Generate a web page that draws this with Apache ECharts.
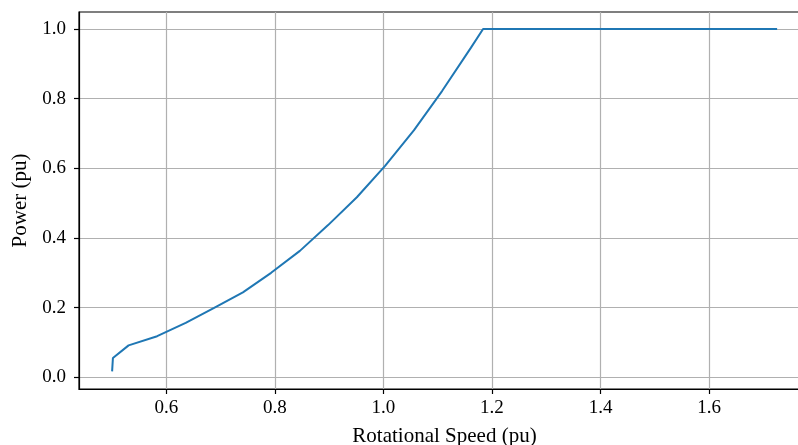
<!DOCTYPE html>
<html>
<head>
<meta charset="utf-8">
<script src="https://cdn.jsdelivr.net/npm/echarts@6/dist/echarts.min.js"></script>
<style>
html,body{margin:0;padding:0;background:#fff;}
#chart{width:798px;height:445px;}
</style>
</head>
<body>
<div id="chart"></div>
<script>
const speed = [0.5, 0.5015, 0.5304, 0.583, 0.6356, 0.688, 0.741, 0.793, 0.846, 0.898, 0.951, 1.003, 1.056, 1.108, 1.161, 1.1836, 1.7254];
const power = [0.017, 0.0555, 0.0916, 0.118, 0.156, 0.199, 0.244, 0.300, 0.363, 0.437, 0.517, 0.607, 0.709, 0.822, 0.946, 1.0, 1.0];
const xTicks = [0.6, 0.8, 1.0, 1.2, 1.4, 1.6];
const yTicks = [0.0, 0.2, 0.4, 0.6, 0.8, 1.0];
const xName = 'Rotational Speed (pu)';
const yName = 'Power (pu)';

const FONT = 'Liberation Serif';
const chart = echarts.init(document.getElementById('chart'), null, {renderer: 'canvas'});
const pts = speed.map((s, i) => [s, power[i]]);
chart.setOption({
  animation: false,
  grid: {left: 79, top: 12, width: 731, height: 377, outerBoundsMode: 'none', containLabel: false,
    show: true, borderColor: '#000', borderWidth: 1.2, backgroundColor: 'transparent'},
  xAxis: {
    type: 'value', min: 0.439, max: 1.786,
    name: xName, nameLocation: 'middle', nameGap: 37,
    nameTextStyle: {fontFamily: FONT, fontSize: 21, color: '#000'},
    axisLine: {show: true, onZero: false, lineStyle: {color: '#000', width: 1.2}},
    axisTick: {show: true, length: 5, customValues: xTicks, lineStyle: {color: '#000', width: 1.2}},
    axisLabel: {customValues: xTicks, margin: 10, fontFamily: FONT, fontSize: 19, color: '#000',
      formatter: v => v.toFixed(1)},
    splitLine: {show: true, lineStyle: {color: '#b0b0b0', width: 1.2}}
  },
  yAxis: {
    type: 'value', min: -0.0337, max: 1.049,
    name: yName, nameLocation: 'middle', nameGap: 47, nameRotate: 90,
    nameTextStyle: {fontFamily: FONT, fontSize: 21, color: '#000'},
    axisLine: {show: true, onZero: false, lineStyle: {color: '#000', width: 1.2}},
    axisTick: {show: true, length: 5, customValues: yTicks, lineStyle: {color: '#000', width: 1.2}},
    axisLabel: {customValues: yTicks, margin: 13, fontFamily: FONT, fontSize: 19, color: '#000',
      formatter: v => v.toFixed(1)},
    splitLine: {show: true, lineStyle: {color: '#b0b0b0', width: 1.2}}
  },
  series: [{
    type: 'line', data: pts, showSymbol: false, symbol: 'none',
    lineStyle: {color: '#1f77b4', width: 2}
  }]
});
</script>
</body>
</html>
